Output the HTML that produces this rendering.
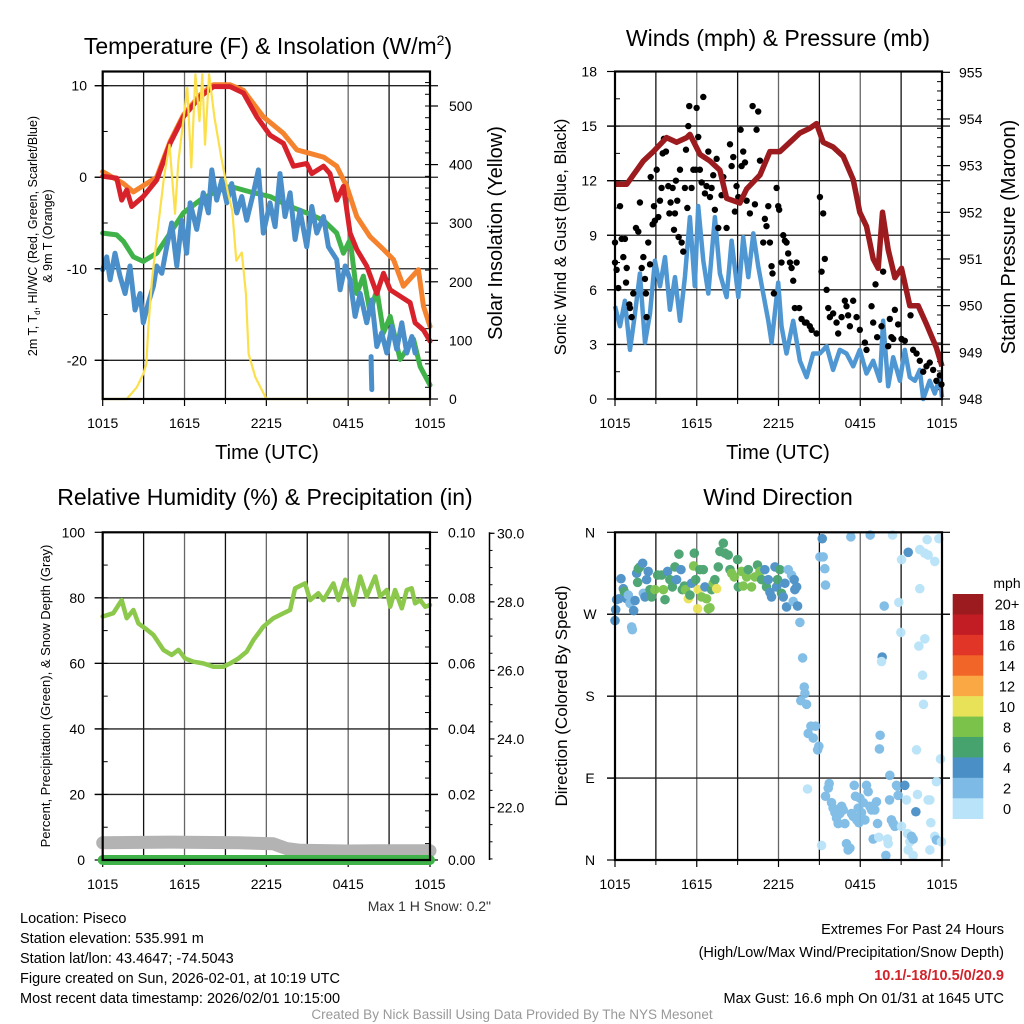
<!DOCTYPE html>
<html><head><meta charset="utf-8"><title>Mesonet Meteogram - Piseco</title>
<style>
html,body{margin:0;padding:0;background:#fff;}
svg{display:block;font-family:"Liberation Sans",Arial,sans-serif;}
</style></head>
<body>
<svg id="chart" width="1024" height="1024" viewBox="0 0 1024 1024" xmlns="http://www.w3.org/2000/svg">
<rect x="0" y="0" width="1024" height="1024" fill="#fff"/>
<g id="layer"></g>
<!-- titles -->
<text x="268" y="54" font-size="23" text-anchor="middle">Temperature (F) &amp; Insolation (W/m<tspan font-size="14" dy="-9">2</tspan><tspan dy="9">)</tspan></text>
<text x="778" y="46" font-size="23" text-anchor="middle">Winds (mph) &amp; Pressure (mb)</text>
<text x="265" y="505" font-size="23" text-anchor="middle">Relative Humidity (%) &amp; Precipitation (in)</text>
<text x="778" y="505" font-size="23" text-anchor="middle">Wind Direction</text>
<!-- axis titles -->
<text transform="translate(37,236) rotate(-90)" font-size="12.5" text-anchor="middle">2m T, T<tspan font-size="8" dy="3">d</tspan><tspan dy="-3">, HI/WC (Red, Green, Scarlet/Blue)</tspan></text>
<text transform="translate(52,236) rotate(-90)" font-size="12.5" text-anchor="middle">&amp; 9m T (Orange)</text>
<text transform="translate(502,233) rotate(-90)" font-size="20" text-anchor="middle">Solar Insolation (Yellow)</text>
<text transform="translate(566,237) rotate(-90)" font-size="16.5" text-anchor="middle">Sonic Wind &amp; Gust (Blue, Black)</text>
<text transform="translate(1015,237) rotate(-90)" font-size="20" text-anchor="middle">Station Pressure (Maroon)</text>
<text transform="translate(50,696) rotate(-90)" font-size="13" text-anchor="middle">Percent, Precipitation (Green), &amp; Snow Depth (Gray)</text>
<text transform="translate(567,696) rotate(-90)" font-size="17" text-anchor="middle">Direction (Colored By Speed)</text>
<text x="267" y="459" font-size="20" text-anchor="middle">Time (UTC)</text>
<text x="778" y="459" font-size="20" text-anchor="middle">Time (UTC)</text>
<!-- footer -->
<text x="491" y="911" font-size="14" fill="#333" text-anchor="end">Max 1 H Snow: 0.2"</text>
<g font-size="14.5">
<text x="20" y="923">Location: Piseco</text>
<text x="20" y="943">Station elevation: 535.991 m</text>
<text x="20" y="963">Station lat/lon: 43.4647; -74.5043</text>
<text x="20" y="983">Figure created on Sun, 2026-02-01, at 10:19 UTC</text>
<text x="20" y="1003">Most recent data timestamp: 2026/02/01 10:15:00</text>
</g>
<g font-size="14.5" text-anchor="end">
<text x="1004" y="934">Extremes For Past 24 Hours</text>
<text x="1004" y="957">(High/Low/Max Wind/Precipitation/Snow Depth)</text>
<text x="1004" y="980" fill="#d2232a" font-weight="bold">10.1/-18/10.5/0/20.9</text>
<text x="1004" y="1003">Max Gust: 16.6 mph On 01/31 at 1645 UTC</text>
</g>
<text x="512" y="1019" font-size="13.5" fill="#999" text-anchor="middle">Created By Nick Bassill Using Data Provided By The NYS Mesonet</text>
<text x="1007" y="588" font-size="14" text-anchor="middle">mph</text>
</svg>
<script>
// ---------- DATA ----------
const xTickLabels = ["1015","1615","2215","0415","1015"];
const tempTicks = [10,0,-10,-20];
const insolTicks = [0,100,200,300,400,500];
const windTicks = [0,3,6,9,12,15,18];
const presTicks = [948,949,950,951,952,953,954,955];
const rhTicks = [0,20,40,60,80,100];
const precipTicks = ["0.00","0.02","0.04","0.06","0.08","0.10"];
const snowTicks = ["22.0","24.0","26.0","28.0","30.0"];
const dirTicks = ["N","E","S","W","N"];
const speedBins = ["0","2","4","6","8","10","12","14","16","18","20+"];
const binColors = ["#b9e3f8","#7dbbe6","#4a90c6","#47a36e","#7ac24a","#e8e258","#f9a844","#f26529","#e03527","#c21d25","#9b1b1e"];

// Temperature (hours since 1015 UTC, deg F)
const redH = [0,1.03,1.39,1.76,2.13,2.98,3.96,4.94,5.92,7.14,8.12,9.34,10.32,11.3,12.27,13.25,13.99,14.96,15.33,16.19,16.67,17.16,17.65,18.14,18.63,19.36,20.1,20.59,21.08,21.81,22.54,22.91,23.52,24];
const redT = [0.1,-0.1,-2.5,-1.4,-3.2,-2.1,-0.3,3.7,6.6,8.8,9.9,9.9,9.2,6.6,4.6,3.7,1.2,1.5,0.4,1.2,0.4,-2.5,-1.0,-6.1,-7.9,-9.7,-12.7,-10.5,-12.3,-13.0,-13.7,-15.9,-16.7,-17.9];
const orangeH = [0,1.52,2.25,3.96,4.94,5.92,7.14,8.12,9.34,10.32,11.78,13.25,14.23,15.21,16.19,17.16,17.9,18.63,19.61,20.59,21.32,22.05,23.15,23.52,24];
const orangeT = [0.6,-0.7,-1.6,0,3.9,6.8,9.0,10.1,10.1,9.5,6.6,4.8,3.0,2.6,2.2,1.2,-1.0,-4.3,-6.5,-7.9,-9.0,-11.9,-10.1,-14.1,-16.3];
const greenH = [0,1.03,1.52,2.25,2.98,3.96,4.94,5.92,7.14,8.12,9.34,10.81,12.27,13.74,14.96,16.19,17.16,17.65,18.14,18.63,19.12,19.61,20.1,20.59,21.08,21.81,22.79,23.28,24];
const greenT = [-6.1,-6.3,-7.0,-8.7,-9.2,-8.3,-6.1,-3.9,-2.5,-1.7,-1.0,-1.6,-2.1,-3.2,-3.9,-4.7,-6.1,-8.3,-6.8,-12.7,-10.8,-14.8,-12.3,-17.0,-15.2,-19.9,-17.7,-20.7,-22.7];
const blueH = [0,0.29,0.54,0.9,1.27,1.64,2.0,2.37,2.74,2.98,3.35,3.72,3.96,4.33,4.69,5.06,5.43,5.79,6.16,6.41,6.89,7.38,7.75,8.0,8.36,8.73,9.1,9.46,9.83,10.2,10.56,11.05,11.42,11.78,12.27,12.64,13.0,13.37,13.74,14.11,14.47,14.96,15.33,15.7,16.19,16.55,17.16,17.41,17.78,18.14,18.51,18.88,19.36,19.73,20.1,20.46,20.83,21.2,21.56,21.93,22.3,22.67,22.91];
const blueT = [-10.1,-8.7,-11.2,-8.3,-10.8,-12.7,-9.7,-14.5,-12.7,-15.9,-13.7,-11.9,-9.7,-10.5,-7.6,-5.0,-9.7,-4.7,-8.3,-2.8,-5.7,-1.7,-3.9,0.8,-2.5,-0.3,-2.8,-0.7,-3.9,-2.1,-4.7,-1.7,0.8,-6.1,-2.8,-5.4,0.4,-4.3,-1.7,-6.8,-3.6,-7.6,-3.2,-6.1,-4.3,-7.6,-9.0,-12.3,-9.7,-11.2,-15.2,-12.7,-15.9,-13.4,-18.5,-17.0,-19.2,-16.3,-18.8,-15.9,-19.2,-17.4,-19.2];
const blueGapH = [19.68,19.7,19.73];
const blueGapT = [-19.6,-21.5,-23.2];
// Insolation (W/m2)
const solarH = [0,1.76,2.5,2.98,3.2,3.35,3.6,3.96,4.5,4.9,5.3,5.55,6.2,6.5,6.8,7.1,7.3,7.5,7.8,8.2,8.7,9.2,9.5,9.8,10.2,10.5,10.7,11.2,12.0,24];
const solarV = [0,0,20,43,60,123,200,274,380,434,316,406,531,395,554,474,554,434,554,480,412,350,321,236,250,180,77,37,0,0];

// Winds (mph) and pressure (mb)
const windH = [0,0.37,0.73,1.1,1.47,1.83,2.2,2.57,2.93,3.3,3.67,4.03,4.4,4.77,5.13,5.5,5.86,6.11,6.48,6.85,7.33,7.7,8.19,8.56,9.05,9.41,9.78,10.15,10.51,10.88,11.25,11.49,11.98,12.22,12.59,13.08,13.57,14.06,14.55,15.04,15.53,16.01,16.5,16.99,17.48,17.97,18.46,18.95,19.44,19.68,20.05,20.42,20.91,21.27,21.64,22.01,22.37,22.62,23.1,23.47,23.84,24];
const windV = [5.1,4.0,5.4,2.7,4.7,6.9,3.1,4.7,7.6,6.2,7.8,4.9,6.7,4.3,6.7,10.0,6.2,10.6,7.6,5.8,10.0,6.9,5.6,8.7,5.6,8.9,6.7,9.1,7.3,5.8,4.3,3.1,6.4,4.0,2.5,4.3,2.1,1.2,2.5,2.5,2.9,1.6,2.7,2.5,1.8,2.7,1.4,2.1,1.0,4.3,0.7,2.3,1.0,2.7,1.2,1.0,1.6,0.0,1.0,0.3,1.2,0.1];
const gustH = [0.0,0.0,0.12,0.24,0.37,0.49,0.61,0.73,0.81,0.86,1.05,1.1,1.22,1.34,1.54,1.71,1.83,1.96,2.08,2.2,2.27,2.32,2.44,2.57,2.62,2.76,2.86,2.93,3.06,3.18,3.3,3.42,3.5,3.59,3.74,3.91,3.99,4.08,4.23,4.33,4.4,4.47,4.57,4.67,4.77,4.89,5.01,5.13,5.21,5.31,5.38,5.45,5.62,5.75,5.94,5.99,6.11,6.23,6.36,6.48,6.6,6.72,6.85,6.97,7.09,7.21,7.33,7.46,7.58,7.82,7.95,8.19,8.44,8.56,8.68,8.8,8.92,9.05,9.22,9.29,9.41,9.54,9.66,9.9,10.1,10.27,10.39,10.51,10.64,10.88,11.0,11.12,11.25,11.37,11.49,11.56,11.66,11.86,11.98,12.05,12.22,12.35,12.47,12.59,12.71,12.84,12.96,13.08,13.2,13.33,13.52,13.69,13.94,14.06,14.3,14.43,14.79,15.04,15.16,15.28,15.4,15.53,15.65,15.77,16.01,16.26,16.38,16.63,16.87,16.99,17.11,17.24,17.48,17.73,17.97,18.34,18.46,18.83,18.95,19.12,19.24,19.56,19.68,20.05,20.17,20.29,20.42,20.54,20.78,21.03,21.27,21.69,21.88,22.13,22.37,22.62,22.86,23.1,23.35,23.59,23.84,23.96];
const gustV = [8.6,7.5,7.1,6.1,10.6,8.8,7.8,8.8,6.4,7.2,5.2,5.0,4.5,5.8,9.4,9.2,10.8,7.2,7.8,6.6,5.8,4.5,8.6,7.4,12.2,9.6,10.6,9.8,12.6,10.0,10.9,11.6,13.5,14.3,13.6,11.7,10.2,10.8,11.6,9.3,10.2,12.0,10.9,8.9,12.6,8.6,8.1,11.6,13.7,10.5,15.0,16.1,11.6,12.6,12.6,16.0,14.4,12.6,11.9,16.6,11.3,11.7,13.6,11.1,11.6,12.3,10.4,13.2,9.4,11.2,12.2,9.4,14.0,12.8,13.3,10.3,11.7,11.1,14.8,12.8,13.6,13.0,10.9,10.2,16.1,10.7,14.8,15.8,13.1,8.6,9.9,9.5,10.6,8.6,7.3,6.9,5.8,11.6,10.6,10.4,7.5,9.0,8.7,8.6,8.0,7.5,7.2,6.5,5.0,7.5,5.0,4.4,4.2,4.2,4.0,3.8,3.6,11.1,7.0,10.2,7.7,6.0,5.0,4.5,4.7,4.2,3.6,4.5,5.4,5.1,4.6,4.0,5.4,4.5,3.8,3.1,2.7,5.1,4.2,6.3,3.4,4.0,7.0,2.9,4.4,3.4,3.3,4.9,4.1,3.3,3.2,4.6,2.7,2.5,2.1,1.5,1.8,2.0,1.6,1.0,1.3,0.8];
const presH = [0,0.37,0.86,1.34,2.08,2.81,3.79,4.52,5.26,5.5,6.24,6.97,7.7,8.19,9.17,9.66,10.64,11.37,12.1,12.84,13.57,14.3,14.79,15.28,16.01,16.75,17.48,17.97,18.46,18.95,19.32,19.63,20.05,20.54,21.03,21.64,22.25,22.86,23.59,24];
const presV = [952.6,952.6,952.6,952.8,953.1,953.3,953.6,953.5,953.6,953.67,953.24,953.1,952.9,952.3,952.2,952.5,952.8,953.3,953.3,953.5,953.7,953.8,953.9,953.5,953.4,953.2,952.7,952.0,951.7,951.0,950.8,952.0,951.2,950.6,950.8,950.0,950.0,949.6,949.1,948.7];

// Relative humidity (%), precip (in), snow depth (in)
const rhH = [0,0.78,1.39,1.76,2.25,2.62,3.11,3.72,4.45,5.06,5.55,6.04,6.65,7.38,8.12,8.85,9.34,9.95,10.56,11.05,11.78,12.52,13.25,13.74,14.11,14.84,15.21,15.82,16.19,16.92,17.29,17.78,18.39,18.88,19.36,19.98,20.34,20.83,21.08,21.44,21.93,22.3,22.66,22.91,23.28,23.64,24];
const rhV = [74.3,75.3,79.3,73.8,76.3,72.2,70.7,68.7,64.1,62.6,64.1,61.5,60.5,60.0,59.0,59.0,60.0,61.5,63.6,67.1,71.2,73.8,75.3,76.3,82.9,84.4,79.3,81.4,79.3,84.4,79.3,85.5,77.8,86.5,80.4,86.5,80.4,82.4,77.3,82.4,76.8,82.4,82.9,78.3,79.3,77.3,77.8];
const precipH = [0,24];
const precipV = [0,0];
const snowH = [0,5,10,12.5,13.5,14.5,18,20,24];
const snowV = [20.97,20.99,20.97,20.94,20.8,20.75,20.73,20.74,20.74];

// Wind direction (hours, degrees, speed mph)
const dirH = [0.0,0.05,0.12,0.29,0.44,0.61,0.68,0.86,0.98,1.1,1.22,1.27,1.37,1.47,1.59,1.71,1.83,2.03,1.66,2.08,2.2,2.32,2.44,2.57,2.69,2.93,3.13,3.42,3.55,3.67,3.86,4.03,4.21,4.4,4.52,4.69,4.84,4.94,5.09,5.18,5.38,5.5,5.62,5.77,5.82,5.92,6.06,6.11,6.23,6.36,6.48,6.6,6.72,6.85,6.97,7.09,7.21,7.33,7.46,7.58,7.7,7.95,8.07,8.31,8.44,8.56,8.75,9.0,9.05,9.29,9.41,9.66,9.78,10.02,10.27,10.46,10.64,10.76,11.0,11.12,11.25,11.37,11.49,11.74,11.86,11.93,12.1,12.22,12.35,12.47,12.71,12.96,13.15,13.2,13.33,12.59,13.08,13.4,
13.57,13.77,13.89,13.94,13.64,14.06,14.18,14.38,14.55,14.72,14.87,14.96,14.13,
15.21,15.28,15.04,15.4,15.45,17.31,18.73,20.37,21.52,21.03,22.91,23.77,22.37,22.74,22.98,23.47,22.37,19.76,20.83,20.98,22.74,22.3,19.61,19.56,22.57,22.64,19.46,19.41,22.13,23.89,
20.17,15.72,15.65,15.45,15.89,16.01,16.14,16.26,16.38,16.5,16.63,16.75,16.87,16.99,17.11,17.24,17.36,17.48,17.56,17.65,17.75,17.85,17.9,17.97,18.09,18.22,18.34,18.46,18.58,18.7,18.83,18.95,19.07,19.19,19.27,19.36,20.0,20.05,20.15,20.29,20.42,20.54,20.66,20.73,20.78,21.03,21.27,21.39,21.47,21.64,21.76,21.88,22.08,22.2,21.88,22.98,23.11,23.18,23.47,23.59,23.96,19.88,15.16,23.11,23.59,21.52];
const dirD = [263,275,286,287,309,298,295,287,291,282,256,253,274,285,315,320,322,326,305,293,289,308,317,297,289,297,313,313,297,286,317,308,300,322,308,336,319,297,301,297,287,291,304,323,337,308,276,297,319,289,319,300,287,276,277,297,304,308,298,322,339,348,337,335,319,315,311,330,300,317,301,311,319,300,311,324,317,308,319,300,308,294,289,322,300,308,319,293,289,304,319,313,308,297,300,278,284,279,
261,222,190,183,175,171,139,147,134,147,121,125,78,
353,333,333,320,302,355,357,357,338,330,352,353,341,337,335,328,298,279,283,250,243,235,223,218,203,171,137,122,121,111,
93,84,79,70,63,57,52,46,40,51,59,55,40,18,11,13,51,48,82,70,44,57,41,68,52,63,44,82,75,59,55,23,55,64,40,25,23,18,66,44,40,37,82,81,71,37,82,66,29,20,26,23,53,72,5,66,66,41,26,22,20,5,16,11,86,11];
const dirS = [5,5,5,5,5,5,7,5,3,3,3,3,5,5,5,7,7,5,7,3,5,5,5,7,7,9,7,7,9,7,5,7,7,7,5,7,5,7,7,9,11,7,5,9,7,7,11,11,7,9,7,5,9,9,9,7,9,7,11,7,7,7,7,7,7,9,9,7,7,9,9,9,7,9,9,7,9,7,5,7,5,5,5,5,5,7,7,7,5,5,3,3,5,5,5,5,3,5,
3,3,3,3,3,3,3,3,3,3,3,3,1,
5,3,3,3,3,3,3,1,5,1,1,1,1,1,1,1,1,3,1,1,1,1,5,1,1,1,3,3,1,1,
3,3,3,3,3,3,3,3,3,3,3,3,3,3,3,3,3,3,3,3,3,3,3,3,3,3,3,3,3,3,3,3,3,3,3,1,1,1,3,3,3,3,3,3,3,1,5,1,1,1,3,3,5,1,1,1,1,1,1,3,1,3,1,1,1,1];

// ---------- DRAWING ----------
const NS = "http://www.w3.org/2000/svg";
const layer = document.getElementById("layer");
function mk(tag, attrs, parent){
  const e = document.createElementNS(NS, tag);
  for (const k in attrs) e.setAttribute(k, attrs[k]);
  (parent||layer).appendChild(e);
  return e;
}
function lin(d0,d1,r0,r1){ return v => r0 + (v-d0)/(d1-d0)*(r1-r0); }
function pathD(xs, ys, fx, fy){
  let d = "";
  for (let i=0;i<xs.length;i++){ d += (i?"L":"M") + fx(xs[i]).toFixed(1) + "," + fy(ys[i]).toFixed(1); }
  return d;
}

const P = {
  L:{x0:102.7,x1:430,yt:71.5,yb:399},
  R:{x0:615,x1:942,yt:71.5,yb:399},
  BL:{x0:102.7,x1:430,yt:532.3,yb:860},
  BR:{x0:615,x1:942,yt:532.3,yb:860}
};

function frame(p, name, hGrid){
  const g = mk("g",{});
  
  
  const fx = lin(0,24,p.x0,p.x1);
  for (let h=3; h<24; h+=3){
    const l = mk("line",{x1:fx(h),x2:fx(h),y1:p.yt,y2:p.yb,stroke:(h%6===0)?"#666":"#111","stroke-width":1.3},g);
    
    
  }
  hGrid.forEach(y=>{
    const l = mk("line",{x1:p.x0-8,x2:p.x1+8,y1:y,y2:y,stroke:"#222","stroke-width":1.3},g);
    
    
  });
  for (let i=0;i<5;i++){
    const h=i*6;
    mk("line",{x1:fx(h),x2:fx(h),y1:p.yb,y2:p.yb+7,stroke:"#000","stroke-width":1.2},g);
    const t = mk("text",{x:fx(h),y:p.yb+29,"font-size":14,"text-anchor":"middle"},g);
    t.textContent = xTickLabels[i];
    
    
  }
  for (let h=3;h<24;h+=6) mk("line",{x1:fx(h),x2:fx(h),y1:p.yb,y2:p.yb+5,stroke:"#000","stroke-width":1},g);
  return {g, fx};
}
function border(p){
  const r = mk("rect",{x:p.x0,y:p.yt,width:p.x1-p.x0,height:p.yb-p.yt,fill:"none",stroke:"#000","stroke-width":2.2});
  
  
}
function yLabels(vals, fy, x, anchor, name, fmt){
  vals.forEach(v=>{
    const t = mk("text",{x:x,y:fy(typeof v==="string"?parseFloat(v):v)+5,"font-size":14,"text-anchor":anchor});
    t.textContent = fmt?fmt(v):String(v);
    
    
  });
}
function ticks(vals, fy, x, dir, len, w){
  vals.forEach(v=>mk("line",{x1:x,x2:x+dir*len,y1:fy(v),y2:fy(v),stroke:"#000","stroke-width":w||1.2}));
}

// ===== Panel 1: temperature =====
(function(){
  const p = P.L;
  const fyT = lin(10,-20,85.7,360.3);
  const fyS = lin(0,500,399,106);
  const {fx} = frame(p,'temperature',tempTicks.map(fyT));
  const minorL=[]; for(let v=-20;v<=10;v+=5) minorL.push(v);
  ticks(minorL, fyT, p.x0, 1, 5, 1);
  ticks(tempTicks, fyT, p.x0, -1, 8);
  const minorR=[]; for(let v=0;v<=550;v+=20) minorR.push(v);
  ticks(minorR, fyS, p.x1, -1, 5, 1);
  ticks(insolTicks, fyS, p.x1, 1, 8);
  yLabels(tempTicks, fyT, 87, "end", 'temperature-tick-label');
  yLabels(insolTicks, fyS, 449, "start", 'insolation-tick-label');
  const series = [
    ['dewpoint-line', greenH, greenT, "#3fb34a", 5],
    ['windchill-line', blueH, blueT, "#4a8fc9", 5],
    ['windchill-gap-line', blueGapH, blueGapT, "#4a8fc9", 5],
    ['temperature-9m-line', orangeH, orangeT, "#f5822d", 5],
    ['temperature-2m-line', redH, redT, "#d7222b", 5]
  ];
  series.forEach(s=>{
    const e = mk("path",{d:pathD(s[1],s[2],fx,fyT),fill:"none",stroke:s[3],"stroke-width":s[4],"stroke-linejoin":"round","stroke-linecap":"round"});
    
    
  });
  const y = mk("path",{d:pathD(solarH,solarV,fx,fyS),fill:"none",stroke:"#fbe04c","stroke-width":2.2,"stroke-linejoin":"round"});
  
  
  border(p);
})();

// ===== Panel 2: winds & pressure =====
(function(){
  const p = P.R;
  const fyW = lin(0,18,399,71.5);
  const fyP = lin(948,955,399,72.3);
  const {fx} = frame(p,'winds',[3,6,9,12,15].map(fyW));
  const mW=[]; for(let v=0;v<=18;v+=1.5) mW.push(v);
  ticks(mW, fyW, p.x0, 1, 5, 1);
  ticks(windTicks, fyW, p.x0, -1, 8);
  const mP=[]; for(let v=948;v<=955;v+=0.2) mP.push(v);
  ticks(mP, fyP, p.x1, -1, 5, 1);
  ticks(presTicks, fyP, p.x1, 1, 8);
  yLabels(windTicks, fyW, 597, "end", 'wind-tick-label');
  yLabels(presTicks, fyP, 959, "start", 'pressure-tick-label');
  const w = mk("path",{d:pathD(windH,windV,fx,fyW),fill:"none",stroke:"#4f97d3","stroke-width":4.5,"stroke-linejoin":"round"});
  
  
  const gg = mk("g",{});
  
  
  for (let i=0;i<gustH.length;i++){
    const c = mk("circle",{cx:fx(gustH[i]),cy:fyW(gustV[i]),r:3.2,fill:"#000"},gg);
    
    
  }
  const pr = mk("path",{d:pathD(presH,presV,fx,fyP),fill:"none",stroke:"#9b1b1e","stroke-width":5.5,"stroke-linejoin":"round"});
  
  
  border(p);
})();

// ===== Panel 3: RH & precip =====
(function(){
  const p = P.BL;
  const fyR = lin(0,100,860,532.3);
  const fyPr = lin(0,0.1,860,532.3);
  const fySn = lin(22,30,807.5,533.3);
  const {fx} = frame(p,'humidity',[20,40,60,80].map(fyR));
  const mR=[]; for(let v=0;v<=100;v+=10) mR.push(v);
  ticks(mR, fyR, p.x0, 1, 5, 1);
  ticks(rhTicks, fyR, p.x0, -1, 8);
  const mPr=[]; for(let v=0;v<=0.1001;v+=0.005) mPr.push(v);
  ticks(mPr, fyPr, p.x1, -1, 5, 1);
  ticks(precipTicks.map(parseFloat), fyPr, p.x1, 1, 8);
  yLabels(rhTicks, fyR, 85, "end", 'humidity-tick-label');
  yLabels(precipTicks, fyPr, 448, "start", 'precip-tick-label');
  const ax = mk("line",{x1:489.5,x2:489.5,y1:532.3,y2:860,stroke:"#000","stroke-width":1.5});
  
  
  const mS=[]; for(let v=20.5;v<=30;v+=0.5) mS.push(v);
  ticks(mS, fySn, 489.5, 1, 3, 1);
  ticks(snowTicks.map(parseFloat), fySn, 489.5, 1, 5);
  yLabels(snowTicks, fySn, 497, "start", 'snow-depth-tick-label');
  const sn = mk("path",{d:pathD(snowH,snowV,fx,fySn),fill:"none",stroke:"#b3b3b3","stroke-width":13,"stroke-linecap":"round","stroke-linejoin":"round"});
  
  
  const pc = mk("path",{d:pathD(precipH,precipV,fx,fyPr),fill:"none",stroke:"#3fb34a","stroke-width":10,"stroke-linecap":"round"});
  
  
  const rh = mk("path",{d:pathD(rhH,rhV,fx,fyR),fill:"none",stroke:"#8cc84b","stroke-width":4.5,"stroke-linejoin":"round","stroke-linecap":"round"});
  
  
  border(p);
  mk("line",{x1:p.x0,x2:p.x1,y1:860,y2:860,stroke:"#000","stroke-width":1.5});
})();

// ===== Panel 4: wind direction =====
(function(){
  const p = P.BR;
  const fyD = lin(0,360,860,532.3);
  const {fx} = frame(p,'wind-direction',[90,180,270].map(fyD));
  const dv=[0,90,180,270,360];
  ticks(dv, fyD, p.x0, -1, 8);
  ticks(dv, fyD, p.x1, 1, 8);
  dv.forEach((v,i)=>{
    const t = mk("text",{x:590,y:fyD(v)+5,"font-size":14,"text-anchor":"middle"});
    t.textContent = dirTicks[i];
    
    
  });
  const g = mk("g",{opacity:0.95});
  
  
  for (let i=0;i<dirH.length;i++){
    const bin = Math.min(10, Math.floor(dirS[i]/2));
    const c = mk("circle",{cx:fx(dirH[i]),cy:fyD(dirD[i]),r:4.8,fill:binColors[bin]},g);
    
    
  }
  border(p);
  const cb = mk("g",{});
  
  
  const top=594, bot=818.7, bh=(bot-top)/speedBins.length;
  for (let i=0;i<speedBins.length;i++){
    const k = speedBins.length-1-i;
    const r = mk("rect",{x:952.7,y:top+i*bh,width:30.6,height:bh+0.3,fill:binColors[k]},cb);
    
    
    const t = mk("text",{x:1007,y:top+i*bh+bh/2+5.5,"font-size":14.5,"text-anchor":"middle"},cb);
    t.textContent = speedBins[k];
    
    
  }
})();
</script>
</body></html>
